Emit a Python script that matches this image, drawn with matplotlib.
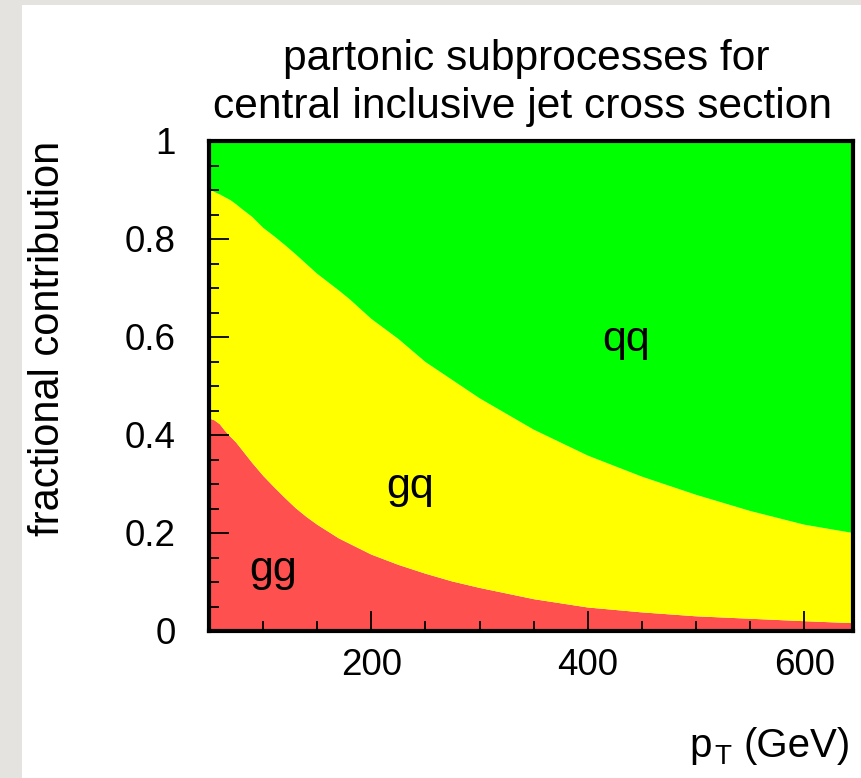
import numpy as np
import matplotlib.pyplot as plt
from matplotlib.patches import Rectangle
from matplotlib.ticker import MultipleLocator

plt.rcParams['font.family'] = ['Liberation Sans', 'DejaVu Sans']

# Jet transverse momentum (GeV)
pt = [50, 55, 60, 65, 70, 75, 80, 90, 100, 110, 120, 130, 140, 150, 160,
      170, 180, 200, 225, 250, 275, 300, 350, 400, 450, 500, 550, 600, 645]
# fraction of the cross section from gg initial states
gg = [0.434, 0.430, 0.422, 0.408, 0.396, 0.385, 0.371, 0.343, 0.317, 0.294,
      0.272, 0.251, 0.233, 0.217, 0.203, 0.189, 0.178, 0.156, 0.135, 0.117,
      0.101, 0.088, 0.065, 0.048, 0.038, 0.030, 0.025, 0.020, 0.016]
# fraction from gq initial states
gq = [0.468, 0.466, 0.469, 0.477, 0.483, 0.486, 0.491, 0.502, 0.506, 0.512,
      0.516, 0.518, 0.516, 0.512, 0.509, 0.506, 0.499, 0.481, 0.461, 0.432,
      0.411, 0.387, 0.346, 0.310, 0.277, 0.248, 0.220, 0.197, 0.184]
# the rest is qq
qq = list(1.0 - np.array(gg) - np.array(gq))

region_labels = ['gg', 'gq', 'qq']
region_colors = ['#ff5050', '#ffff00', '#00ff00']
label_pos = [(109, 0.103), (236, 0.271), (435, 0.572)]

W, H = 862, 778
fig = plt.figure(figsize=(W / 100, H / 100), dpi=100, facecolor='#e5e3df')
# white page on the grey backdrop
fig.patches.append(Rectangle((22 / W, 0), 1 - 22 / W, (H - 5) / H,
                             transform=fig.transFigure, facecolor='white',
                             edgecolor='none', zorder=-10))

ax = fig.add_axes([209 / W, 1 - 631 / H, 644 / W, 490 / H])
ax.set_zorder(2)
ax.stackplot(pt, gg, gq, qq, colors=region_colors, linewidth=0)

for lab, (x, y) in zip(region_labels, label_pos):
    ax.text(x, y, lab, fontsize=31, ha='center', va='baseline')

ax.set_xlim(50, 645)
ax.set_ylim(0, 1)
ax.xaxis.set_major_locator(MultipleLocator(200))
ax.xaxis.set_minor_locator(MultipleLocator(50))
ax.yaxis.set_major_locator(MultipleLocator(0.2))
ax.yaxis.set_minor_locator(MultipleLocator(0.05))
ax.set_yticks([0, 0.2, 0.4, 0.6, 0.8, 1.0])
ax.set_yticklabels(['0', '0.2', '0.4', '0.6', '0.8', '1'])

ax.tick_params(which='both', direction='in', width=1.3, labelsize=26.5)
ax.tick_params(which='major', length=14.5)
ax.tick_params(which='minor', length=7)
ax.tick_params(axis='y', pad=24)
ax.tick_params(axis='x', pad=12)
for sp in ax.spines.values():
    sp.set_linewidth(3)
    sp.set_zorder(5)

fig.text(526 / W, 1 - 70 / H, 'partonic subprocesses for', fontsize=30.6,
         ha='center', va='baseline')
fig.text(523 / W, 1 - 118 / H, 'central inclusive jet cross section',
         fontsize=30.6, ha='center', va='baseline')
fig.text(68 / W, 1 - 141 / H, 'fractional contribution', fontsize=30,
         rotation=90, ha='right', va='top')

# x axis title: p, subscript T, unit
fig.text(851 / W, 1 - 757 / H, '(GeV)', fontsize=29, ha='right', va='baseline')
fig.text(731 / W, 1 - 764 / H, 'T', fontsize=20, ha='right', va='baseline')
fig.text(712 / W, 1 - 757 / H, 'p', fontsize=29, ha='right', va='baseline')

fig.savefig('out.png', dpi=100, facecolor=fig.get_facecolor())
